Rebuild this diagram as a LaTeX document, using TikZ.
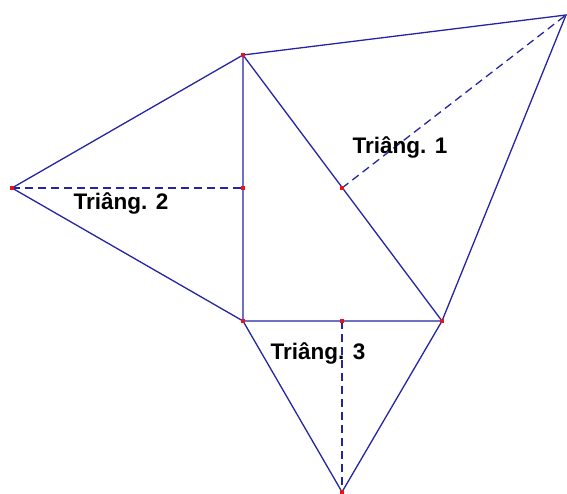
\documentclass[tikz,border=0pt]{standalone}
\usepackage{fontspec}
\setmainfont{Liberation Sans}
\usetikzlibrary{positioning}
\definecolor{edgeblue}{RGB}{36,36,165}
\definecolor{dotred}{RGB}{230,20,30}

\begin{document}
\begin{tikzpicture}[x=1pt, y=-1pt,
	every node/.style={font=\fontsize{22.5}{26}\selectfont\bfseries},
	side/.style={edgeblue, line width=1.3pt},
	median/.style={edgeblue, line width=1.3pt, dash pattern=on 8pt off 5pt},
	vertex/.style={fill=dotred, inner sep=0pt, minimum size=3.5pt, rectangle}]
	\useasboundingbox (0,0) rectangle (567,494);
	% corners of the right triangle and of the three outer triangles
	\coordinate (A) at (243,55);
	\coordinate (B) at (243,321);
	\coordinate (C) at (442,321);
	\coordinate (D) at (566,15);
	\coordinate (E) at (12,188);
	\coordinate (F) at (342,492);
	\coordinate (mAB) at (243,188);
	\coordinate (mAC) at (342,188);
	\coordinate (mBC) at (342,321);
	% sides
	\draw[side] (A) -- (B) -- (C) -- cycle;
	\draw[side] (A) -- (D) -- (C);
	\draw[side] (A) -- (E) -- (B);
	\draw[side] (B) -- (F) -- (C);
	% heights
	\draw[median] (E) -- (mAB);
	\draw[median] (mAC) -- (D);
	\draw[median] (mBC) -- (F);
	\foreach \p in {A,B,C,E,F,mAB,mAC,mBC}
		\node[vertex] at (\p) {};
	% labels
	\node (t1) at (400,147) {Triâng. 1};
	\node (t2) at (121,203) {Triâng. 2};
	\node (t3) at (318,353) {Triâng. 3};
\end{tikzpicture}
\end{document}
